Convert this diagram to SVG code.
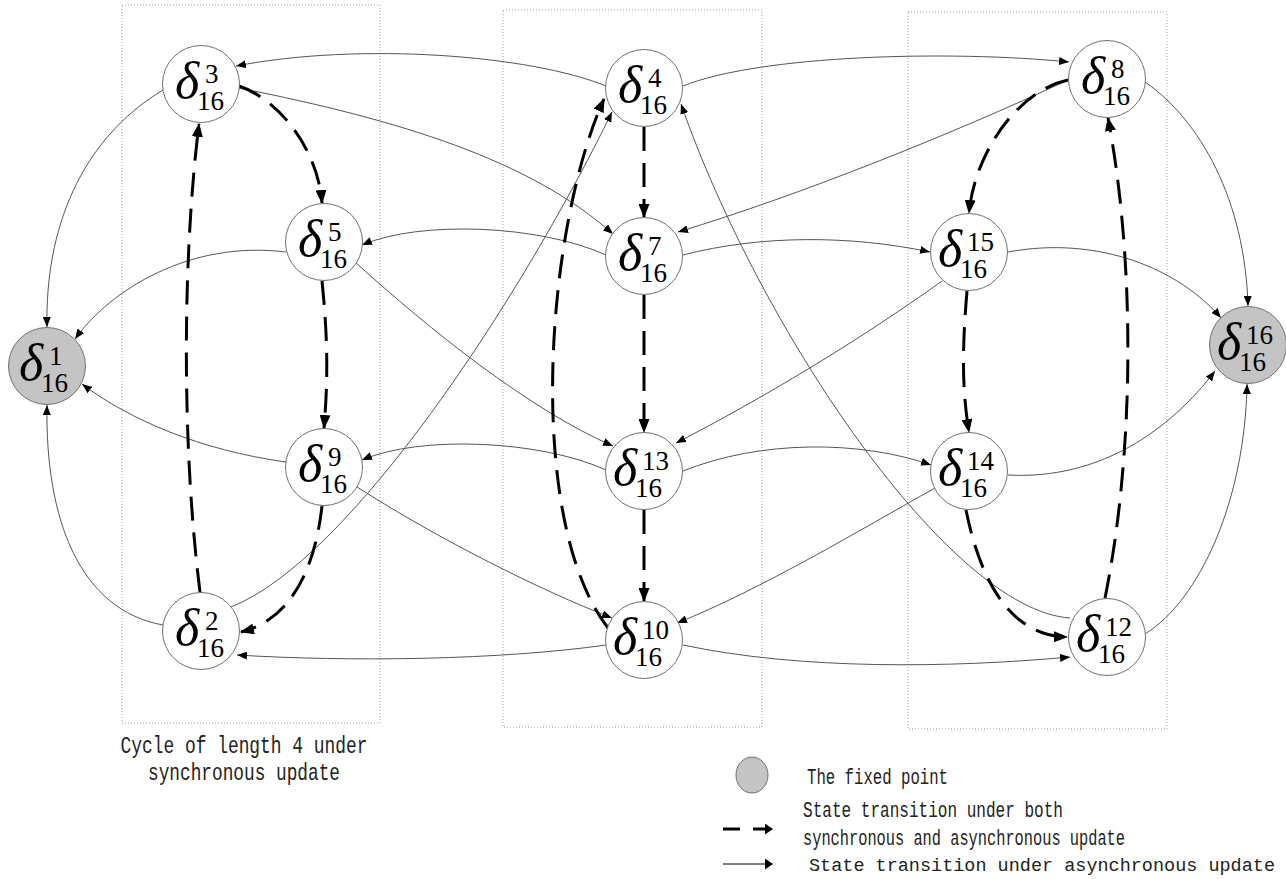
<svg xmlns="http://www.w3.org/2000/svg" width="1286" height="879" viewBox="0 0 1286 879">
<defs>
<style>
.frame{fill:none;stroke:#a0a0a0;stroke-width:1;stroke-dasharray:1 2}
.node circle{fill:#fff;stroke:#707070;stroke-width:1}
.node.fixed circle{fill:#c4c4c4}
.lbl{font-family:"Liberation Serif",serif;fill:#000}
.sym{font-style:italic;font-size:52px}
.idx{font-size:27px}
.thin{fill:none;stroke:#555;stroke-width:1;marker-end:url(#ah)}
.dash{fill:none;stroke:#000;stroke-width:3;stroke-dasharray:24 12;marker-end:url(#ahb)}
.note{font-family:"Liberation Mono",monospace;font-size:22px;fill:#222}
.note.wide{font-size:18.5px}
.cap{font-family:"Liberation Mono",monospace;font-size:24px;fill:#222}
</style>
<marker id="ah" markerUnits="userSpaceOnUse" markerWidth="10" markerHeight="8" refX="10" refY="4" orient="auto"><path d="M0,0 L10,4 L0,8 z" fill="#000"/></marker>
<marker id="ahb" markerUnits="userSpaceOnUse" markerWidth="14" markerHeight="11" refX="13" refY="5.5" orient="auto"><path d="M0,0 L14,5.5 L0,11 z" fill="#000"/></marker>
<marker id="ahl" markerUnits="userSpaceOnUse" markerWidth="8" markerHeight="11" refX="7" refY="5.5" orient="auto"><path d="M0,0 L8,5.5 L0,11 z" fill="#000"/></marker>
</defs>
<rect width="1286" height="879" fill="#fff"/>

<!-- column frames -->
<g id="frames">
<rect class="frame" x="122" y="5" width="258" height="718"/>
<rect class="frame" x="503" y="10" width="259" height="717"/>
<rect class="frame" x="908" y="12" width="259" height="717"/>
</g>

<!-- transitions -->
<g id="connectors">
<!-- asynchronous only -->
<path class="thin" d="M163,90 C80,140 45,230 47,327"/>
<path class="thin" d="M286,252 C190,240 110,290 75,339"/>
<path class="thin" d="M286,462 C200,450 130,420 82,384"/>
<path class="thin" d="M163,625 C80,610 45,520 47,405"/>
<path class="thin" d="M606,86 C530,55 360,42 236,66"/>
<path class="thin" d="M239,88 C400,120 530,160 613,234"/>
<path class="thin" d="M606,255 C540,225 420,220 362,245"/>
<path class="thin" d="M355,262 C430,330 530,410 613,446"/>
<path class="thin" d="M606,470 C540,440 420,435 362,460"/>
<path class="thin" d="M357,487 C440,540 540,590 612,618"/>
<path class="thin" d="M606,645 C500,660 350,662 237,655"/>
<path class="thin" d="M231,607 C350,560 520,300 612,112"/>
<path class="thin" d="M683,86 C760,55 950,50 1069,62"/>
<path class="thin" d="M1068,80 C950,135 800,195 678,232"/>
<path class="thin" d="M683,255 C760,235 850,235 930,252"/>
<path class="thin" d="M942,281 C860,340 760,400 676,443"/>
<path class="thin" d="M683,471 C760,440 860,440 931,465"/>
<path class="thin" d="M935,488 C860,530 760,590 677,623"/>
<path class="thin" d="M683,645 C800,670 950,668 1070,657"/>
<path class="thin" d="M1070,618 C950,610 760,330 681,104"/>
<path class="thin" d="M1145,82 C1200,120 1245,200 1248,306"/>
<path class="thin" d="M1008,252 C1100,235 1180,270 1221,318"/>
<path class="thin" d="M1008,475 C1100,480 1170,430 1215,371"/>
<path class="thin" d="M1145,634 C1200,600 1245,500 1247,384"/>
<!-- synchronous and asynchronous -->
<path class="dash" d="M239,86 C280,100 318,150 322,203"/>
<path class="dash" d="M322,281 C328,340 328,380 324,428"/>
<path class="dash" d="M322,506 C315,570 290,620 241,632"/>
<path class="dash" d="M200,592 C182,450 182,260 199,124"/>
<path class="dash" d="M644,127 L644,217"/>
<path class="dash" d="M644,295 L644,432"/>
<path class="dash" d="M644,510 L644,601"/>
<path class="dash" d="M608,628 C525,520 545,230 604,99"/>
<path class="dash" d="M1068,80 C1020,90 975,150 969,213"/>
<path class="dash" d="M967,291 C962,350 962,390 969,432"/>
<path class="dash" d="M966,510 C980,580 1010,636 1067,637"/>
<path class="dash" d="M1105,598 C1135,450 1135,260 1108,118"/>
</g>

<!-- states -->
<g id="n1" class="node fixed" transform="translate(47,366)"><circle r="38.5"/><text class="lbl"><tspan class="sym" x="-28" y="14">δ</tspan><tspan class="idx" x="2" y="-1">1</tspan><tspan class="idx" x="-6" y="26">16</tspan></text></g>
<g id="n3" class="node" transform="translate(201,84)"><circle r="38.5"/><text class="lbl"><tspan class="sym" x="-26" y="14">δ</tspan><tspan class="idx" x="4" y="-1">3</tspan><tspan class="idx" x="-4" y="26">16</tspan></text></g>
<g id="n5" class="node" transform="translate(324,242)"><circle r="38.5"/><text class="lbl"><tspan class="sym" x="-26" y="14">δ</tspan><tspan class="idx" x="4" y="-1">5</tspan><tspan class="idx" x="-4" y="26">16</tspan></text></g>
<g id="n9" class="node" transform="translate(324,467)"><circle r="38.5"/><text class="lbl"><tspan class="sym" x="-26" y="14">δ</tspan><tspan class="idx" x="4" y="-1">9</tspan><tspan class="idx" x="-4" y="26">16</tspan></text></g>
<g id="n2" class="node" transform="translate(201,631)"><circle r="38.5"/><text class="lbl"><tspan class="sym" x="-26" y="14">δ</tspan><tspan class="idx" x="4" y="-1">2</tspan><tspan class="idx" x="-4" y="26">16</tspan></text></g>
<g id="n4" class="node" transform="translate(644,88)"><circle r="38.5"/><text class="lbl"><tspan class="sym" x="-26" y="14">δ</tspan><tspan class="idx" x="4" y="-1">4</tspan><tspan class="idx" x="-4" y="26">16</tspan></text></g>
<g id="n7" class="node" transform="translate(644,256)"><circle r="38.5"/><text class="lbl"><tspan class="sym" x="-26" y="14">δ</tspan><tspan class="idx" x="4" y="-1">7</tspan><tspan class="idx" x="-4" y="26">16</tspan></text></g>
<g id="n13" class="node" transform="translate(644,471)"><circle r="38.5"/><text class="lbl"><tspan class="sym" x="-31" y="14">δ</tspan><tspan class="idx" x="-2" y="-1">13</tspan><tspan class="idx" x="-9" y="26">16</tspan></text></g>
<g id="n10" class="node" transform="translate(644,640)"><circle r="38.5"/><text class="lbl"><tspan class="sym" x="-31" y="14">δ</tspan><tspan class="idx" x="-2" y="-1">10</tspan><tspan class="idx" x="-9" y="26">16</tspan></text></g>
<g id="n8" class="node" transform="translate(1107,79)"><circle r="38.5"/><text class="lbl"><tspan class="sym" x="-26" y="14">δ</tspan><tspan class="idx" x="4" y="-1">8</tspan><tspan class="idx" x="-4" y="26">16</tspan></text></g>
<g id="n15" class="node" transform="translate(969,252)"><circle r="38.5"/><text class="lbl"><tspan class="sym" x="-31" y="14">δ</tspan><tspan class="idx" x="-2" y="-1">15</tspan><tspan class="idx" x="-9" y="26">16</tspan></text></g>
<g id="n14" class="node" transform="translate(969,471)"><circle r="38.5"/><text class="lbl"><tspan class="sym" x="-31" y="14">δ</tspan><tspan class="idx" x="-2" y="-1">14</tspan><tspan class="idx" x="-9" y="26">16</tspan></text></g>
<g id="n12" class="node" transform="translate(1107,637)"><circle r="38.5"/><text class="lbl"><tspan class="sym" x="-31" y="14">δ</tspan><tspan class="idx" x="-2" y="-1">12</tspan><tspan class="idx" x="-9" y="26">16</tspan></text></g>
<g id="n16" class="node fixed" transform="translate(1248,345)"><circle r="38.5"/><text class="lbl"><tspan class="sym" x="-31" y="14">δ</tspan><tspan class="idx" x="-2" y="-1">16</tspan><tspan class="idx" x="-9" y="26">16</tspan></text></g>

<!-- caption under the left column -->
<g id="caption">
<text class="cap" x="244" y="753" text-anchor="middle" textLength="247" lengthAdjust="spacingAndGlyphs">Cycle of length 4 under</text>
<text class="cap" x="244" y="780" text-anchor="middle" textLength="192" lengthAdjust="spacingAndGlyphs">synchronous update</text>
</g>

<!-- legend -->
<g id="legend">
<ellipse cx="752" cy="775" rx="16" ry="18" fill="#c4c4c4" stroke="#707070" stroke-width="1"/>
<text class="note" x="807" y="784" textLength="141" lengthAdjust="spacingAndGlyphs">The fixed point</text>
<path d="M723,829 L772,829" fill="none" stroke="#000" stroke-width="3" stroke-dasharray="17 13" marker-end="url(#ahl)"/>
<text class="note" x="803" y="817" textLength="260" lengthAdjust="spacingAndGlyphs">State transition under both</text>
<text class="note" x="803" y="845" textLength="322" lengthAdjust="spacingAndGlyphs">synchronous and asynchronous update</text>
<path d="M723,864 L772,864" fill="none" stroke="#000" stroke-width="1" marker-end="url(#ahl)"/>
<text class="note wide" x="809" y="871" textLength="466" lengthAdjust="spacingAndGlyphs">State transition under asynchronous update</text>
</g>
</svg>
